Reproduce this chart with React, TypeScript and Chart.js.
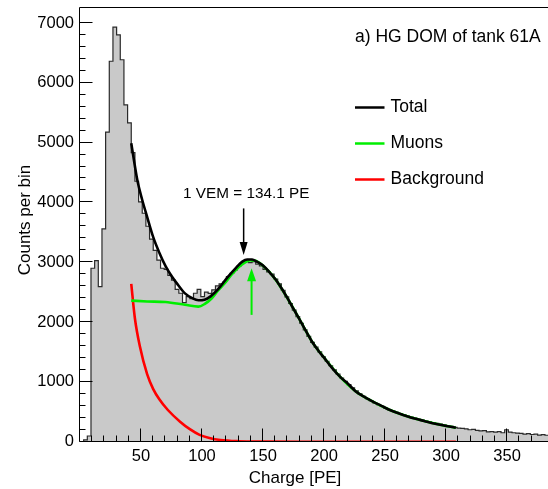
import React, { useEffect, useRef } from 'react';
import { Chart, registerables } from 'chart.js';

Chart.register(...registerables);

const FONT = '"Liberation Sans", Arial, Helvetica, sans-serif';

// Histogram: bins of 3 PE starting at 0 PE
const binWidth = 3;
const binCounts = [
  0, 30, 95, 2900, 3027, 2592, 3557, 5175, 6360, 6930,
  6800, 6385, 5630, 5330, 4833, 4354, 4008, 3819, 3602, 3385,
  3200, 3034, 2900, 2880, 2780, 2700, 2548, 2482, 2324, 2425,
  2391, 2482, 2548, 2425, 2500, 2480, 2537, 2604, 2638, 2670,
  2760, 2816, 2871, 2938, 2994, 3022, 2994, 3010, 2970, 2940,
  2880, 2840, 2800, 2720, 2640, 2530, 2420, 2310, 2200, 2090,
  1980, 1870, 1760, 1660, 1580, 1500, 1420, 1345, 1270, 1200,
  1130, 1065, 1010, 955, 900, 850, 800, 760, 720, 685,
  650, 620, 590, 560, 535, 510, 490, 470, 450, 430,
  410, 395, 375, 360, 345, 330, 318, 305, 293, 282,
  270, 255, 240, 228, 222, 215, 200, 205, 190, 180,
  185, 165, 170, 160, 168, 150, 200, 160, 150, 145,
  140, 128, 135, 120, 125, 110, 118, 108,
];

// Fit curves (charge in PE, counts per bin)
const totalCharge = [42, 47, 51, 55, 60, 65, 70, 75, 80, 86, 92, 97, 102, 107, 113, 121, 128, 133, 137, 141, 145, 150, 155, 160, 165, 170, 175, 180, 186, 191, 196, 200, 206, 213, 220, 226, 233, 240, 247, 254, 261, 268, 275, 282, 290, 299, 308];
const totalCounts = [4990, 4370, 4040, 3760, 3420, 3160, 2940, 2770, 2630, 2480, 2400, 2365, 2375, 2430, 2545, 2750, 2910, 3010, 3045, 3045, 3010, 2945, 2840, 2720, 2570, 2400, 2220, 2040, 1820, 1645, 1505, 1405, 1247, 1087, 960, 840, 750, 670, 600, 530, 475, 425, 382, 347, 305, 268, 234];

const muonCharge = [42, 55, 70, 86, 97, 102, 108, 113, 119, 124, 130, 135, 139, 143, 150, 160, 170, 180, 191, 200, 213, 226, 240, 254, 268, 282, 299, 308];
const muonCounts = [2358, 2345, 2335, 2290, 2258, 2300, 2398, 2525, 2658, 2787, 2916, 2993, 3030, 3030, 2940, 2718, 2398, 2040, 1645, 1405, 1087, 840, 670, 530, 425, 347, 268, 234];

const bgCharge = [42, 45, 49, 55, 60, 65, 72, 82, 90, 98, 106, 115, 130, 150, 180, 220, 260, 308];
const bgCounts = [2640, 2060, 1600, 1130, 880, 710, 530, 335, 210, 115, 62, 28, 8, 2, 0, 0, 0, 0];

const xTickLabels = [50, 100, 150, 200, 250, 300, 350];
const yTickLabels = [0, 1000, 2000, 3000, 4000, 5000, 6000, 7000];

const seriesNames = ['Total', 'Muons', 'Background'];
const seriesColors = ['#000000', '#00ee00', '#ff0000'];
const panelTitle = 'a) HG DOM of tank 61A';
const xAxisTitle = 'Charge [PE]';
const yAxisTitle = 'Counts per bin';
const vemCharge = 134.1;
const vemLabel = '1 VEM = 134.1 PE';
const muonPeakCharge = 140.6;

const xMin = 0;
const xMax = 383.5;
const yMin = 0;
const yMax = 7262;

function drawArrow(ctx: CanvasRenderingContext2D, x: number, yFrom: number, yTo: number, color: string, lw: number, headLen: number, headW: number) {
  const dir = Math.sign(yTo - yFrom);
  ctx.strokeStyle = color;
  ctx.fillStyle = color;
  ctx.lineWidth = lw;
  ctx.beginPath();
  ctx.moveTo(x, yFrom);
  ctx.lineTo(x, yTo - dir * headLen + dir);
  ctx.stroke();
  ctx.beginPath();
  ctx.moveTo(x, yTo);
  ctx.lineTo(x - headW / 2, yTo - dir * headLen);
  ctx.lineTo(x + headW / 2, yTo - dir * headLen);
  ctx.closePath();
  ctx.fill();
}

const overlayPlugin = {
  id: 'overlay',
  afterDatasetsDraw(chart: any) {
    const { ctx, chartArea: a, scales } = chart;
    const xs = scales.x;
    const ys = scales.y;
    ctx.save();

    // frame (left, bottom, top)
    const left = Math.round(a.left) - 0.5;
    const bottom = Math.round(a.bottom) - 0.5;
    const top = Math.round(a.top) + 0.5;
    ctx.strokeStyle = '#000';
    ctx.lineWidth = 1;
    ctx.beginPath();
    ctx.moveTo(left, top);
    ctx.lineTo(a.right, top);
    ctx.moveTo(left, top);
    ctx.lineTo(left, bottom);
    ctx.lineTo(a.right, bottom);
    ctx.stroke();

    // inward ticks
    ctx.beginPath();
    ys.ticks.forEach((t: any) => {
      const v = t.value;
      if (Math.abs(v % 200) > 1e-6) return;
      const py = Math.round(ys.getPixelForValue(v)) - 0.5;
      const len = v % 1000 === 0 ? 13 : 6;
      ctx.moveTo(left, py);
      ctx.lineTo(left + len, py);
    });
    xs.ticks.forEach((t: any) => {
      const v = t.value;
      if (v <= 0 || Math.abs(v % 10) > 1e-6) return;
      const px = Math.round(xs.getPixelForValue(v)) - 0.5;
      const len = v % 50 === 0 ? 13 : 6;
      ctx.moveTo(px, bottom);
      ctx.lineTo(px, bottom - len);
    });
    ctx.stroke();

    // VEM annotation
    const vx = xs.getPixelForValue(vemCharge);
    drawArrow(ctx, vx, ys.getPixelForValue(3900), ys.getPixelForValue(3120), '#000', 1.5, 13, 8);
    const gx = xs.getPixelForValue(muonPeakCharge);
    drawArrow(ctx, gx, ys.getPixelForValue(2120), ys.getPixelForValue(2900), seriesColors[1], 2, 13, 9);
    ctx.fillStyle = '#000';
    ctx.font = `15.3px ${FONT}`;
    ctx.textAlign = 'center';
    ctx.textBaseline = 'middle';
    ctx.fillText(vemLabel, vx + 2.6, ys.getPixelForValue(4140));

    // axis titles
    ctx.font = `17px ${FONT}`;
    ctx.fillText(xAxisTitle, 295, 478);
    ctx.save();
    ctx.translate(25, 220);
    ctx.rotate(-Math.PI / 2);
    ctx.fillText(yAxisTitle, 0, 0);
    ctx.restore();

    // panel title and legend
    ctx.font = `17.5px ${FONT}`;
    ctx.textAlign = 'left';
    ctx.fillText(panelTitle, 355, 37.5);
    const legendY = [107.5, 143.5, 179.5];
    seriesNames.forEach((name, i) => {
      ctx.strokeStyle = seriesColors[i];
      ctx.lineWidth = 2.5;
      ctx.beginPath();
      ctx.moveTo(355, legendY[i]);
      ctx.lineTo(384.5, legendY[i]);
      ctx.stroke();
      ctx.fillStyle = '#000';
      ctx.fillText(name, 390.5, legendY[i]);
    });

    ctx.restore();
  },
};

export default function App() {
  const canvasRef = useRef<HTMLCanvasElement | null>(null);

  useEffect(() => {
    if (!canvasRef.current) return;
    const histPoints = binCounts.map((c, i) => ({ x: i * binWidth, y: c }));
    histPoints.push({ x: binCounts.length * binWidth, y: binCounts[binCounts.length - 1] });

    const toPts = (xs: number[], ys: number[]) => xs.map((x, i) => ({ x, y: ys[i] }));

    const chart = new Chart(canvasRef.current, {
      type: 'line',
      data: {
        datasets: [
          {
            label: seriesNames[0],
            data: toPts(totalCharge, totalCounts),
            borderColor: seriesColors[0],
            borderWidth: 2.6,
            pointRadius: 0,
            cubicInterpolationMode: 'monotone',
            fill: false,
            order: 0,
          },
          {
            label: seriesNames[1],
            data: toPts(muonCharge, muonCounts),
            borderColor: seriesColors[1],
            borderWidth: 2.6,
            pointRadius: 0,
            cubicInterpolationMode: 'monotone',
            fill: false,
            order: 1,
          },
          {
            label: seriesNames[2],
            data: toPts(bgCharge, bgCounts),
            borderColor: seriesColors[2],
            borderWidth: 2.6,
            pointRadius: 0,
            cubicInterpolationMode: 'monotone',
            fill: false,
            order: 2,
          },
          {
            label: 'Data',
            data: histPoints,
            stepped: 'before',
            borderColor: '#2a2a2a',
            borderWidth: 1.2,
            backgroundColor: '#c9c9c9',
            fill: 'origin',
            pointRadius: 0,
            order: 3,
          },
        ],
      } as any,
      options: {
        animation: false,
        responsive: false,
        devicePixelRatio: 1,
        layout: { padding: { top: 7.3, left: 0, right: 0, bottom: 0 } },
        plugins: {
          legend: { display: false },
          tooltip: { enabled: false },
        },
        scales: {
          x: {
            type: 'linear',
            min: xMin,
            max: xMax,
            grid: { display: false, drawTicks: false },
            border: { display: false },
            ticks: {
              stepSize: 10,
              autoSkip: false,
              maxRotation: 0,
              minRotation: 0,
              padding: 5,
              color: '#000',
              font: { family: FONT, size: 16.5 },
              callback: (v: any) => (xTickLabels.includes(Number(v)) ? String(v) : ''),
            },
            afterFit: (s: any) => {
              s.height = 47.3;
              s.paddingLeft = 0;
              s.paddingRight = 0;
            },
          },
          y: {
            type: 'linear',
            min: yMin,
            max: yMax,
            grid: { display: false, drawTicks: false },
            border: { display: false },
            afterBuildTicks: (s: any) => {
              s.ticks = s.ticks.filter((t: any) => t.value % 200 === 0);
            },
            ticks: {
              stepSize: 200,
              autoSkip: false,
              padding: 6,
              color: '#000',
              font: { family: FONT, size: 16.5 },
              callback: (v: any) => (yTickLabels.includes(Number(v)) ? String(v) : ''),
            },
            afterFit: (s: any) => {
              s.width = 80;
              s.paddingTop = 0;
              s.paddingBottom = 0;
            },
          },
        },
      } as any,
      plugins: [overlayPlugin],
    });
    return () => chart.destroy();
  }, []);

  return (
    <div style={{ position: 'absolute', left: 0, top: 0, width: 548, height: 489, background: '#fff' }}>
      <canvas ref={canvasRef} width={548} height={489} style={{ display: 'block' }} />
    </div>
  );
}
